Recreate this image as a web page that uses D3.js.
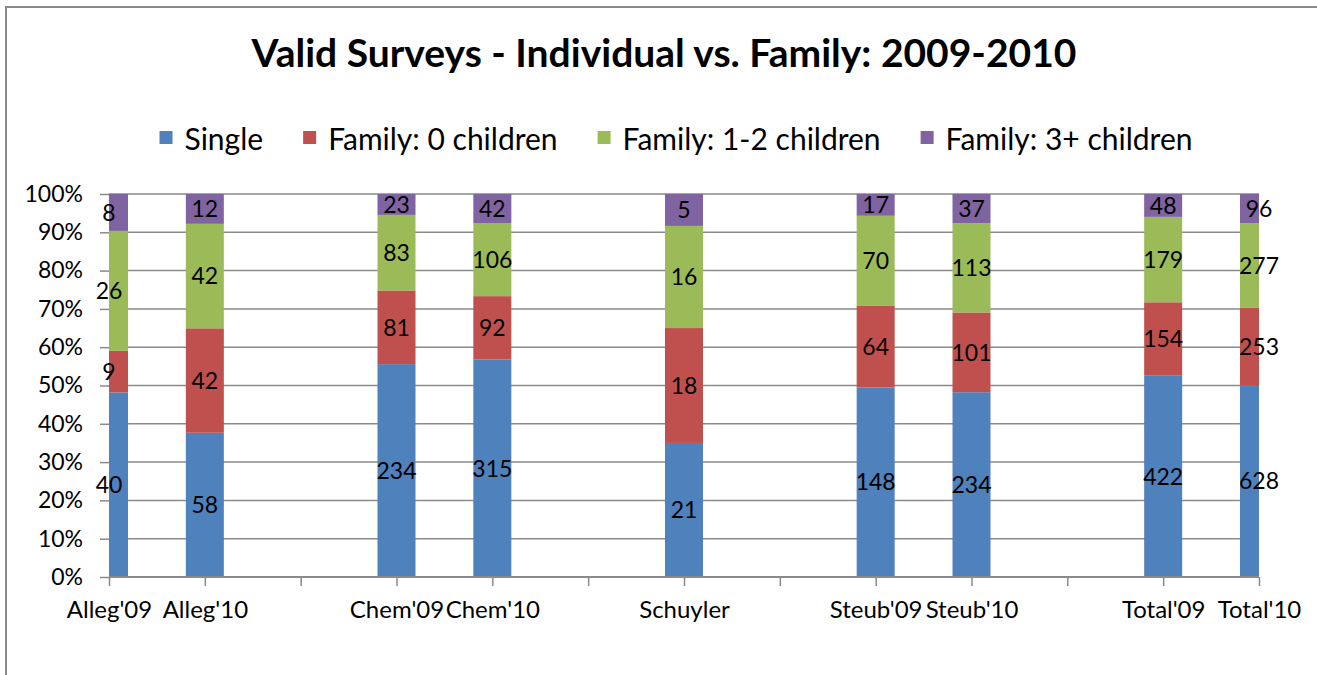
<!DOCTYPE html>
<html>
<head>
<meta charset="utf-8">
<script src="https://cdn.jsdelivr.net/npm/d3@7"></script>
<style>
	body { margin: 0; background: #fff; }
	text { font-family: Lato, "Open Sans", sans-serif; }
</style>
</head>
<body>
<script>
	// categories, blanks are empty slots on the axis
	var categories = ["Alleg'09", "Alleg'10", "", "Chem'09", "Chem'10", "", "Schuyler", "", "Steub'09", "Steub'10", "", "Total'09", "Total'10"];
	var seriesNames = ["Single", "Family: 0 children", "Family: 1-2 children", "Family: 3+ children"];
	var single   = [40, 58, null, 234, 315, null, 21, null, 148, 234, null, 422, 628];
	var family0  = [9, 42, null, 81, 92, null, 18, null, 64, 101, null, 154, 253];
	var family12 = [26, 42, null, 83, 106, null, 16, null, 70, 113, null, 179, 277];
	var family3  = [8, 12, null, 23, 42, null, 5, null, 17, 37, null, 48, 96];
	var yTicks = [0, 0.1, 0.2, 0.3, 0.4, 0.5, 0.6, 0.7, 0.8, 0.9, 1];
	var title = "Valid Surveys - Individual vs. Family: 2009-2010";

	var colors = ["#4F81BD", "#C0504D", "#9BBB59", "#8064A2"];

	var width = 1317, height = 675;
	var plotLeft = 109, plotRight = 1259, plotTop = 194, plotBottom = 577;
	var barWidth = 38;
	var gridColor = "#8a8a8a";

	var svg = d3.select("body").append("svg")
		.attr("width", width)
		.attr("height", height);

	// chart frame (only top and left edges fall inside the picture)
	svg.append("rect")
		.attr("x", 6).attr("y", 7)
		.attr("width", 1400).attr("height", 800)
		.style("fill", "none")
		.style("stroke", gridColor)
		.style("stroke-width", 2);

	svg.append("text")
		.attr("x", 664).attr("y", 67)
		.attr("text-anchor", "middle")
			.style("font-size", "39px")
			.style("font-weight", "bold")
			.style("fill", "#000")
		.text(title);

	var x = d3.scalePoint().domain(d3.range(categories.length)).range([plotLeft, plotRight]);
	var y = d3.scaleLinear().domain([0, 1]).range([plotBottom, plotTop]);

	// gridlines
	svg.append("g").selectAll("line")
		.data(yTicks)
		.join("line")
		.attr("x1", plotLeft).attr("x2", plotRight)
		.attr("y1", function(d) { return y(d); })
		.attr("y2", function(d) { return y(d); })
		.style("stroke", gridColor)
		.style("stroke-width", 1.5);

	// y axis
	var yAxis = d3.axisLeft(y).tickValues(yTicks).tickFormat(d3.format(".0%")).tickSize(9).tickPadding(17);
	var gy = svg.append("g").attr("transform", "translate(" + plotLeft + ",0)").call(yAxis);
	gy.select(".domain").remove();
	gy.selectAll(".tick line").style("stroke", gridColor).style("stroke-width", 1.5);
	gy.selectAll(".tick text").style("font-size", "23px").style("font-family", "Lato").style("fill", "#000");

	// stacked percentages
	var rows = categories.map(function(c, i) {
		return { i: i, vals: [single[i], family0[i], family12[i], family3[i]] };
	}).filter(function(r) { return r.vals[0] != null; });

	var segs = [];
	rows.forEach(function(r) {
		var total = d3.sum(r.vals), acc = 0;
		r.vals.forEach(function(v, k) {
			segs.push({ i: r.i, k: k, v: v, y0: acc / total, y1: (acc + v) / total });
			acc += v;
		});
	});

	svg.append("clipPath").attr("id", "plot")
		.append("rect")
		.attr("x", plotLeft).attr("y", plotTop - 2)
		.attr("width", plotRight - plotLeft).attr("height", plotBottom - plotTop + 2);

	svg.append("g")
		.attr("clip-path", "url(#plot)")
		.selectAll("rect")
		.data(segs)
		.join("rect")
		.attr("x", function(d) { return x(d.i) - barWidth / 2; })
		.attr("width", barWidth)
		.attr("y", function(d) { return y(d.y1); })
		.attr("height", function(d) { return y(d.y0) - y(d.y1); })
		.style("fill", function(d) { return colors[d.k]; });

	// x axis
	var xAxis = d3.axisBottom(x).tickFormat(function(i) { return categories[i]; }).tickSize(9).tickPadding(15);
	var gx = svg.append("g").attr("transform", "translate(0," + plotBottom + ")").call(xAxis);
	gx.select(".domain").remove();
	gx.selectAll(".tick line").style("stroke", gridColor).style("stroke-width", 1.5);
	gx.selectAll(".tick text").style("font-size", "24px").style("font-family", "Lato").style("fill", "#000");
	svg.append("line")
		.attr("x1", plotLeft).attr("x2", plotRight)
		.attr("y1", plotBottom).attr("y2", plotBottom)
		.style("stroke", gridColor).style("stroke-width", 2);

	// value labels
	svg.append("g").selectAll("text")
		.data(segs)
		.join("text")
		.attr("x", function(d) { return x(d.i); })
		.attr("y", function(d) { return y((d.y0 + d.y1) / 2); })
		.attr("dy", "0.36em")
		.attr("text-anchor", "middle")
			.style("font-size", "23px")
			.style("fill", "#000")
		.text(function(d) { return d.v; });

	// legend
	var legend = svg.append("g");
	var lx = 0, gap = 40;
	seriesNames.forEach(function(name, k) {
		var item = legend.append("g").attr("transform", "translate(" + lx + ",0)");
		item.append("rect")
			.attr("x", 0).attr("y", -19)
			.attr("width", 13).attr("height", 13)
			.style("fill", colors[k]);
		var t = item.append("text")
			.attr("x", 25).attr("y", 0)
				.style("font-size", "30px")
				.style("fill", "#000")
			.text(name);
		lx += 25 + t.node().getComputedTextLength() + gap;
	});
	var lw = lx - gap;
	legend.attr("transform", "translate(" + (676 - lw / 2) + ",150)");
</script>
</body>
</html>
